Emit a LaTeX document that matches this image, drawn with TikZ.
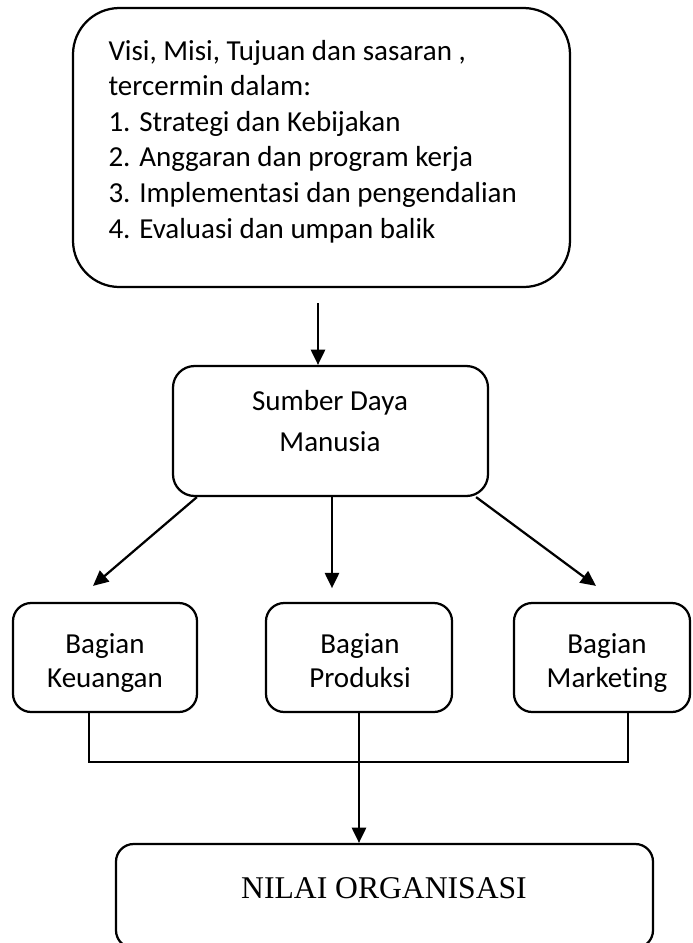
\documentclass[tikz,border=0pt]{standalone}
\usepackage{fontspec}
\setmainfont{Carlito}[Ligatures={NoCommon}]
\newfontfamily\serifnilai{Liberation Serif}
\usetikzlibrary{arrows.meta,calc}
\newcommand{\pxu}{0.3793pt}

\begin{document}
\begin{tikzpicture}[x=\pxu, y=-\pxu,
    every node/.style={font=\fontsize{11}{13.5}\selectfont},
    kotak/.style={draw, line width=0.85pt, inner sep=0pt},
    teks/.style={inner sep=0pt, align=center},
    panah/.style={line width=0.85pt, -{Triangle[length=5.8pt,width=5.4pt]}},
    garis/.style={line width=0.85pt}]
    \useasboundingbox (0,0) rectangle (692,943);

    % Visi dan misi
    \node[kotak, rounded corners=17.6pt, minimum width=497*\pxu, minimum height=279*\pxu] (visi) at (321.5,147.5) {};
    \node[teks, align=left, anchor=base west] (visitxt) at (108,238)
        {Visi, Misi, Tujuan dan sasaran ,\\ tercermin dalam:\\ 1. Strategi dan Kebijakan\\
         2. Anggaran dan program kerja\\ 3. Implementasi dan pengendalian\\ 4. Evaluasi dan umpan balik};

    % SDM
    \node[kotak, rounded corners=8.2pt, minimum width=315*\pxu, minimum height=130*\pxu] (sdm) at (330.5,431) {};
    \node[teks, anchor=base, font=\fontsize{11}{15.4}\selectfont] (sdmtxt) at (330,451) {Sumber Daya\\ Manusia};

    % Bagian
    \node[kotak, rounded corners=6.9pt, minimum width=184*\pxu, minimum height=109*\pxu] (keu) at (105,657.5) {};
    \node[kotak, rounded corners=6.9pt, minimum width=186*\pxu, minimum height=109*\pxu] (prod) at (359,657.5) {};
    \node[kotak, rounded corners=6.9pt, minimum width=176*\pxu, minimum height=109*\pxu] (mkt) at (602,657.5) {};
    \node[teks, anchor=base, font=\fontsize{11}{12.9}\selectfont] (keutxt) at (105,687) {Bagian\\ Keuangan};
    \node[teks, anchor=base, font=\fontsize{11}{12.9}\selectfont] (prodtxt) at (360,687) {Bagian\\ Produksi};
    \node[teks, anchor=base, font=\fontsize{11}{12.9}\selectfont] (mkttxt) at (607,687) {Bagian\\ Marketing};

    % Nilai
    \node[kotak, rounded corners=6.7pt, minimum width=537*\pxu, minimum height=104*\pxu] (nilai) at (384.5,896) {};
    \node[teks, anchor=base, font=\serifnilai\fontsize{12}{14}\selectfont] (nilaitxt) at (384,898) {NILAI ORGANISASI};

    % Panah
    \coordinate (a1) at (318,303);
    \draw[panah] (a1) -- (a1 |- sdm.north);
    \draw[panah] ($(sdm.south west)+(25,0)$) -- ($(keu.north)+(-12,-16)$);
    \draw[panah] ($(sdm.south)+(1.5,0)$) -- ++(0,91);
    \draw[panah] ($(sdm.south east)+(-13,0)$) -- ($(mkt.north)+(-6,-16)$);

    % Garis gabungan
    \coordinate (temu) at (360,762);
    \draw[garis] ($(keu.south)+(-16,0)$) |- (temu) -| ($(mkt.south)+(26,0)$);
    \draw[panah] (prod.south) -- (prod.south |- nilai.north);
\end{tikzpicture}
\end{document}
